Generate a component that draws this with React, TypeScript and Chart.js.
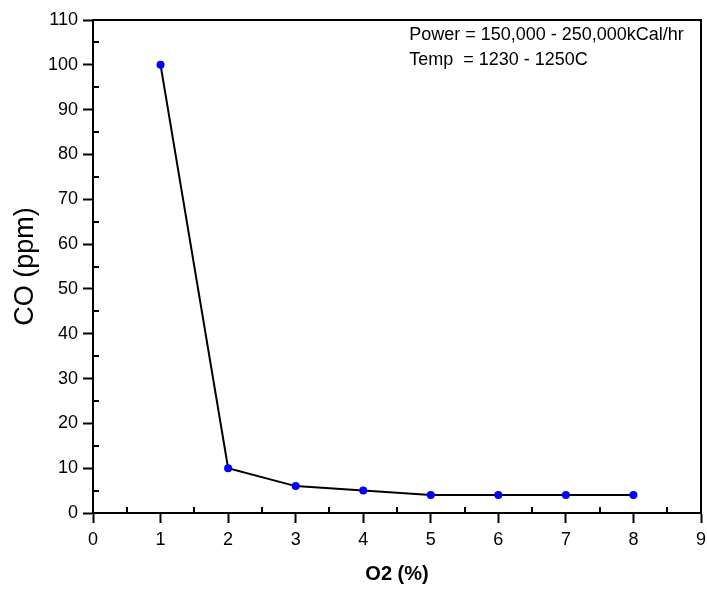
import React, { useEffect, useRef } from "react";
import { Chart, registerables } from "chart.js";

Chart.register(...registerables);

const o2Percent = [1, 2, 3, 4, 5, 6, 7, 8];
const coPpm = [100, 10, 6, 5, 4, 4, 4, 4];
const xTicksMinor = [0.5, 1.5, 2.5, 3.5, 4.5, 5.5, 6.5, 7.5, 8.5];
const yTicksMinor = [5, 15, 25, 35, 45, 55, 65, 75, 85, 95, 105];
const noteLines = ["Power = 150,000 - 250,000kCal/hr", "Temp  = 1230 - 1250C"];

const FONT = "'Liberation Sans', Arial, sans-serif";

const framePlugin = {
  id: "frame",
  afterDraw(chart: any) {
    const ctx = chart.ctx;
    const { left, right, top, bottom } = chart.chartArea;
    const xs = chart.scales.x;
    const ys = chart.scales.y;
    ctx.save();
    ctx.strokeStyle = "#000";
    ctx.lineWidth = 2;
    ctx.beginPath();
    ctx.moveTo(left, top);
    ctx.lineTo(right, top);
    ctx.lineTo(right, bottom);
    ctx.stroke();
    ctx.beginPath();
    xTicksMinor.forEach((v) => {
      const px = Math.round(xs.getPixelForValue(v));
      ctx.moveTo(px, bottom);
      ctx.lineTo(px, bottom - 6);
    });
    yTicksMinor.forEach((v) => {
      const py = Math.round(ys.getPixelForValue(v));
      ctx.moveTo(left, py);
      ctx.lineTo(left + 6, py);
    });
    ctx.stroke();
    ctx.fillStyle = "#000";
    ctx.font = `18px ${FONT}`;
    ctx.textAlign = "left";
    ctx.textBaseline = "alphabetic";
    const tx = xs.getPixelForValue(4.68);
    noteLines.forEach((line, i) => {
      ctx.fillText(line, tx, top + 20 + i * 25);
    });
    ctx.restore();
  },
};

export default function App() {
  const ref = useRef<HTMLCanvasElement | null>(null);
  useEffect(() => {
    if (!ref.current) return;
    const chart = new Chart(ref.current, {
      type: "line",
      data: {
        datasets: [
          {
            data: o2Percent.map((x, i) => ({ x, y: coPpm[i] })),
            borderColor: "#000",
            borderWidth: 2,
            pointBackgroundColor: "#0000ff",
            pointBorderColor: "#0000ff",
            pointRadius: 4,
            pointBorderWidth: 0,
            tension: 0,
          },
        ],
      },
      options: {
        animation: false,
        responsive: false,
        maintainAspectRatio: false,
        layout: { padding: { top: 20, right: 6, left: 0, bottom: 0 } },
        plugins: { legend: { display: false }, tooltip: { enabled: false } },
        scales: {
          x: {
            type: "linear",
            min: 0,
            max: 9,
            afterFit: (s: any) => {
              s.height = 78;
              s.paddingLeft = 0;
              s.paddingRight = 0;
            },
            ticks: {
              stepSize: 1,
              color: "#000",
              padding: 6,
              font: { family: FONT, size: 18 },
            },
            grid: {
              drawOnChartArea: false,
              drawTicks: true,
              tickLength: 10,
              tickWidth: 2,
              tickColor: "#000",
            },
            border: { display: true, color: "#000", width: 2 },
            title: {
              display: true,
              text: "O2 (%)",
              color: "#000",
              font: { family: FONT, size: 20, weight: "bold" },
              padding: { top: 0, bottom: 5 },
            },
          },
          y: {
            type: "linear",
            min: 0,
            max: 110,
            afterFit: (s: any) => {
              s.width = 93;
              s.paddingTop = 0;
              s.paddingBottom = 0;
            },
            ticks: {
              stepSize: 10,
              color: "#000",
              padding: 5,
              font: { family: FONT, size: 18 },
            },
            grid: {
              drawOnChartArea: false,
              drawTicks: true,
              tickLength: 10,
              tickWidth: 2,
              tickColor: "#000",
            },
            border: { display: true, color: "#000", width: 2 },
            title: {
              display: true,
              text: "CO (ppm)",
              color: "#000",
              font: { family: FONT, size: 27 },
              padding: { top: 9, bottom: 0 },
            },
          },
        },
      },
      plugins: [framePlugin],
    });
    return () => chart.destroy();
  }, []);
  return (
    <div style={{ position: "fixed", left: 0, top: 0, width: 707, height: 591, background: "#fff" }}>
      <canvas ref={ref} width={707} height={591} style={{ width: 707, height: 591 }} />
    </div>
  );
}
